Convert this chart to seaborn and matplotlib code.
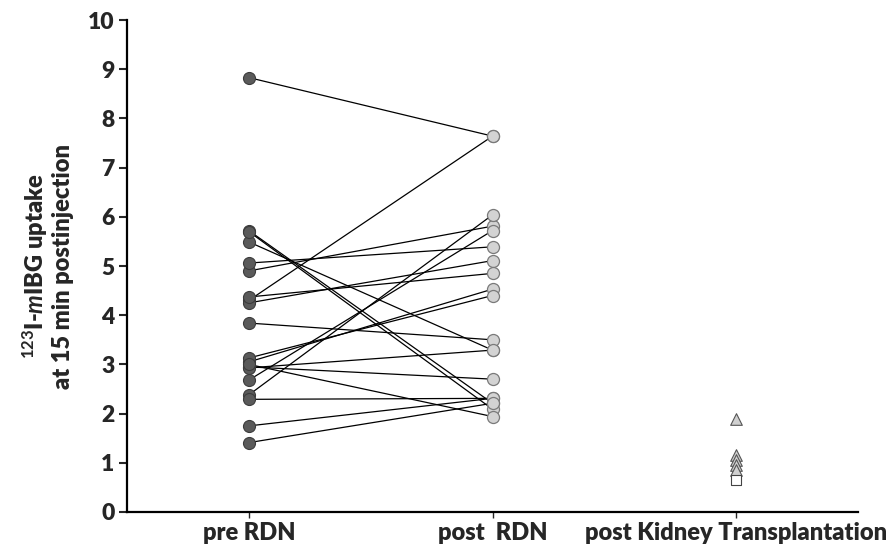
import numpy as np
import pandas as pd
import seaborn as sns
import matplotlib.pyplot as plt

# --------------------------
# data
# --------------------------
groups = ["pre RDN", "post  RDN", "post Kidney Transplantation"]

# paired values, one entry per patient (pre -> post)
pre_rdn = [8.83, 4.30, 4.90, 5.06, 4.25, 4.37, 2.68, 2.38, 3.05, 3.13,
           5.49, 3.84, 2.95, 2.93, 5.72, 5.70, 2.29, 1.75, 1.41, 3.00]
post_rdn = [7.64, 7.64, 5.81, 5.39, 5.11, 4.85, 5.72, 6.04, 4.53, 4.40,
            3.29, 3.50, 2.70, 3.29, 2.21, 2.09, 2.31, 2.31, 2.21, 1.94]

# kidney transplant group (unpaired)
ktx_triangles = [1.90, 1.15, 1.05, 0.95, 0.85]
ktx_squares = [0.65]

sns.set_style("ticks")
plt.rcParams["font.family"] = ["Lato", "DejaVu Sans"]
plt.rcParams["mathtext.fontset"] = "custom"
plt.rcParams["mathtext.rm"] = "Lato:bold"
plt.rcParams["mathtext.it"] = "Lato:italic:bold"
plt.rcParams["mathtext.bf"] = "Lato:bold"

# long table for the paired lines
n = len(pre_rdn)
paired = pd.DataFrame({
    "id": list(range(n)) * 2,
    "x": [0] * n + [1] * n,
    "value": pre_rdn + post_rdn,
})
ktx = pd.DataFrame({
    "x": [2] * (len(ktx_triangles) + len(ktx_squares)),
    "value": ktx_triangles + ktx_squares,
    "kind": ["tri"] * len(ktx_triangles) + ["sq"] * len(ktx_squares),
})

fig = plt.figure(figsize=(8.91, 5.47), dpi=100)
ax = fig.add_axes([0.1425, 0.064, 0.8205, 0.8994])

# lines between pre and post
sns.lineplot(data=paired, x="x", y="value", units="id", estimator=None,
             color="black", linewidth=0.9, ax=ax, legend=False, zorder=1)

# pre RDN points
sns.scatterplot(data=paired[paired["x"] == 0], x="x", y="value", ax=ax,
                color="#5a5a5a", edgecolor="#3c3c3c", linewidth=0.8,
                s=75, legend=False, zorder=3)
# post RDN points
sns.scatterplot(data=paired[paired["x"] == 1], x="x", y="value", ax=ax,
                color="#d3d3d3", edgecolor="#7a7a7a", linewidth=0.9,
                s=75, legend=False, zorder=3)
# kidney transplantation
sns.scatterplot(data=ktx[ktx["kind"] == "tri"], x="x", y="value", ax=ax,
                marker="^", color="#d0d0d0", edgecolor="#555555",
                linewidth=0.8, s=70, legend=False, zorder=3)
sns.scatterplot(data=ktx[ktx["kind"] == "sq"], x="x", y="value", ax=ax,
                marker="s", color="white", edgecolor="#444444",
                linewidth=0.8, s=45, legend=False, zorder=3)

ax.set_xlim(-0.5, 2.5)
ax.set_ylim(0, 10)
ax.set_yticks(range(0, 11))
ax.set_xticks([0, 1, 2])
ax.set_xticklabels(groups)
ax.set_xlabel("")
ax.set_ylabel("$^{123}$I-$\\mathit{m}$IBG uptake\nat 15 min postinjection",
              fontsize=17, fontweight="heavy", labelpad=10, linespacing=1.1)

for lab in ax.get_yticklabels():
    lab.set_fontweight("heavy")
    lab.set_fontsize(16.5)
for lab in ax.get_xticklabels():
    lab.set_fontweight("heavy")
    lab.set_fontsize(17)

ax.tick_params(axis="y", length=6, width=1.5, pad=3)
ax.tick_params(axis="x", length=4, width=1.0, pad=3)
for side in ["left", "bottom"]:
    ax.spines[side].set_linewidth(1.6)
    ax.spines[side].set_color("black")
sns.despine(ax=ax)

fig.savefig("out.png", dpi=100)
